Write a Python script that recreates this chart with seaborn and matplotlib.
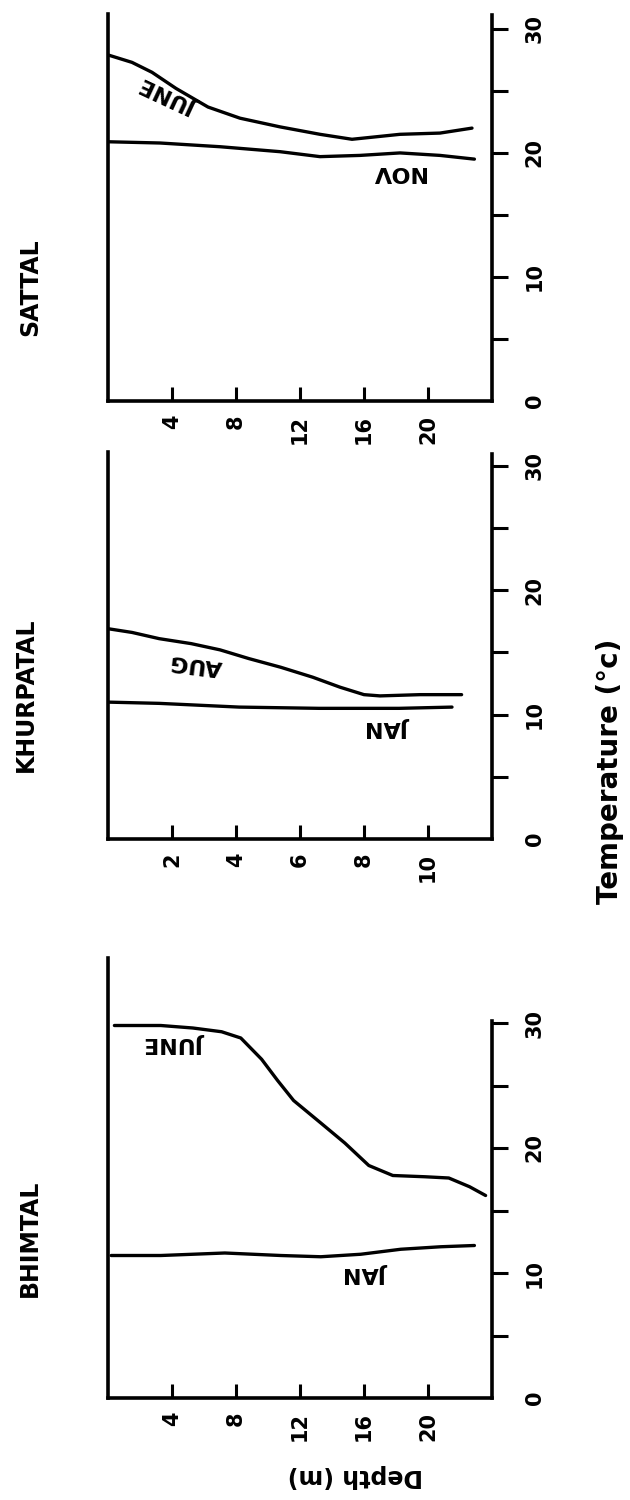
import numpy as np
import pandas as pd
import matplotlib
matplotlib.use("Agg")
import matplotlib.pyplot as plt
import seaborn as sns

# depth (m) / temperature (deg C) profiles
sattal_june_depth = [0, 1.5, 2.75, 4.25, 6.25, 8.25, 10.75, 13.25, 15.25, 18.25, 20.75, 22.75]
sattal_june_temp = [27.9, 27.3, 26.5, 25.2, 23.7, 22.8, 22.1, 21.5, 21.1, 21.5, 21.6, 22.0]
sattal_nov_depth = [0, 3.25, 7, 10.75, 13.25, 15.75, 18.25, 20.75, 22.9]
sattal_nov_temp = [20.9, 20.8, 20.5, 20.1, 19.7, 19.8, 20.0, 19.8, 19.5]

khurpatal_aug_depth = [0, 0.75, 1.6, 2.6, 3.5, 4.4, 5.4, 6.4, 7.25, 8.0, 8.5, 9.75, 11.05]
khurpatal_aug_temp = [16.9, 16.6, 16.1, 15.7, 15.2, 14.5, 13.8, 13.0, 12.2, 11.6, 11.5, 11.6, 11.6]
khurpatal_jan_depth = [0, 1.6, 4.1, 6.6, 9.1, 10.75]
khurpatal_jan_temp = [11.0, 10.9, 10.6, 10.5, 10.5, 10.6]

bhimtal_june_depth = [0.4, 3.3, 5.3, 7.1, 8.3, 9.6, 10.6, 11.6, 13.3, 14.8, 16.3, 17.8, 19.8, 21.3, 22.6, 23.6]
bhimtal_june_temp = [29.8, 29.8, 29.6, 29.3, 28.8, 27.1, 25.4, 23.8, 22.0, 20.4, 18.6, 17.8, 17.7, 17.6, 16.9, 16.2]
bhimtal_jan_depth = [0.2, 3.3, 7.3, 10.8, 13.3, 15.8, 18.3, 20.8, 22.9]
bhimtal_jan_temp = [11.4, 11.4, 11.6, 11.4, 11.3, 11.5, 11.9, 12.1, 12.2]

temp_ticks = [0, 10, 20, 30]
temp_minor = [5, 15, 25]
depth_ticks_24 = [4, 8, 12, 16, 20]
depth_ticks_12 = [2, 4, 6, 8, 10]

sns.set_style("ticks")
plt.rcParams["font.family"] = ["DejaVu Sans"]
plt.rcParams.update({"text.color": "black", "xtick.color": "black", "ytick.color": "black",
                     "axes.edgecolor": "black", "axes.labelcolor": "black"})

W, H = 630, 1500
fig = plt.figure(figsize=(W / 100, H / 100), dpi=100)


def px_axes(left, right, top, bottom):
    return fig.add_axes([left / W, 1 - bottom / H, (right - left) / W, (bottom - top) / H])


def draw_panel(ax, series, xmax, ymax, xticks, right_top, labels):
    for depth, temp in series:
        df = pd.DataFrame({"depth": depth, "temp": temp})
        sns.lineplot(data=df, x="depth", y="temp", sort=False, color="black",
                     lw=2.4, ax=ax, solid_capstyle="round", solid_joinstyle="round")
    ax.set_xlim(0, xmax)
    ax.set_ylim(0, ymax)
    ax.set_xlabel("")
    ax.set_ylabel("")

    ax.spines["top"].set_visible(False)
    for s in ["left", "bottom", "right"]:
        ax.spines[s].set_linewidth(2.6)
        ax.spines[s].set_color("black")
    ax.spines["right"].set_bounds(0, right_top)

    # temperature axis on the right, ticks pointing out
    ax.yaxis.tick_right()
    ax.set_yticks(temp_ticks)
    ax.set_yticks(temp_minor, minor=True)
    ax.tick_params(axis="y", which="both", direction="out", length=11.5, width=2.2,
                   right=True, left=False, labelright=True, labelleft=False,
                   color="black", labelcolor="black")
    ax.tick_params(axis="y", which="major", pad=12, labelsize=15)
    for lab in ax.get_yticklabels():
        lab.set_rotation(90)
        lab.set_ha("left")
        lab.set_va("center")
        lab.set_fontweight("bold")
    ax.yaxis.get_major_ticks()[0].tick2line.set_visible(False)

    # depth axis at the bottom, ticks pointing in
    ax.set_xticks(xticks)
    ax.tick_params(axis="x", direction="in", length=10, width=2.2, pad=10,
                   labelsize=15, color="black", labelcolor="black")
    for lab in ax.get_xticklabels():
        lab.set_rotation(90)
        lab.set_ha("center")
        lab.set_va("top")
        lab.set_fontweight("bold")

    for x, y, txt, rot in labels:
        ax.text(x, y, txt, rotation=rot, ha="center", va="center",
                fontsize=16, fontweight="bold", color="black")


ax1 = px_axes(108, 492, 14, 401)
draw_panel(ax1, [(sattal_june_depth, sattal_june_temp), (sattal_nov_depth, sattal_nov_temp)],
           24, 31.2, depth_ticks_24, 31.1,
           [(3.9, 24.6, "JUNE", 155), (18.1, 18.5, "NOV", 180)])

ax2 = px_axes(108, 492, 452, 839)
draw_panel(ax2, [(khurpatal_aug_depth, khurpatal_aug_temp), (khurpatal_jan_depth, khurpatal_jan_temp)],
           12, 31.1, depth_ticks_12, 30.9,
           [(2.75, 14.1, "AUG", 173), (8.8, 9.0, "JAN", 180)])

ax3 = px_axes(108, 492, 958, 1398)
draw_panel(ax3, [(bhimtal_june_depth, bhimtal_june_temp), (bhimtal_jan_depth, bhimtal_jan_temp)],
           24, 35.2, depth_ticks_24, 30.2,
           [(4.25, 28.4, "JUNE", 180), (16.2, 10.0, "JAN", 180)])

# lake names and shared axis labels
fig.text(30 / W, 1 - 287 / H, "SATTAL", rotation=90, ha="center", va="center",
         fontsize=17, fontweight="bold")
fig.text(26 / W, 1 - 695 / H, "KHURPATAL", rotation=90, ha="center", va="center",
         fontsize=17, fontweight="bold")
fig.text(30 / W, 1 - 1238 / H, "BHIMTAL", rotation=90, ha="center", va="center",
         fontsize=17, fontweight="bold")
fig.text(610 / W, 1 - 771 / H, "Temperature (°c)", rotation=90, ha="center", va="center",
         fontsize=20, fontweight="bold")
fig.text(355 / W, 1 - 1476 / H, "Depth (m)", rotation=180, ha="center", va="center",
         fontsize=17, fontweight="bold")

fig.savefig("out.png", dpi=100)
